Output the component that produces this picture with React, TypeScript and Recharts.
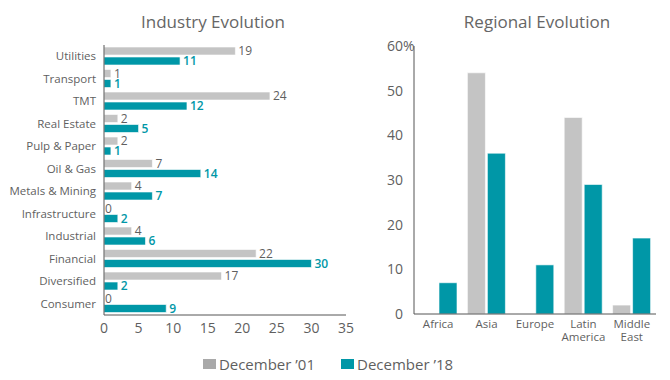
import React from 'react';
import { BarChart, Bar, XAxis, YAxis, LabelList } from 'recharts';

const industries = ['Utilities', 'Transport', 'TMT', 'Real Estate', 'Pulp & Paper', 'Oil & Gas', 'Metals & Mining', 'Infrastructure', 'Industrial', 'Financial', 'Diversified', 'Consumer'];
const industry01 = [19, 1, 24, 2, 2, 7, 4, 0, 4, 22, 17, 0];
const industry18 = [11, 1, 12, 5, 1, 14, 7, 2, 6, 30, 2, 9];
const industryTicks = [0, 5, 10, 15, 20, 25, 30, 35];

const regions = ['Africa', 'Asia', 'Europe', 'Latin America', 'Middle East'];
const region01 = [0, 54, 0, 44, 2];
const region18 = [7, 36, 11, 29, 17];
const regionTicks = [0, 10, 20, 30, 40, 50, 60];

const seriesNames = ['December \u201901', 'December \u201918'];
const titles = ['Industry Evolution', 'Regional Evolution'];

const GRAY = '#c4c4c4';
const GRAY_LEGEND = '#a9a9a9';
const TEAL = '#0097a7';
const TEXT = '#5f5f5f';
const AXIS = '#555555';
const FONT = '"Open Sans", sans-serif';

const industryData = industries.map((name, i) => ({ name, a: industry01[i], b: industry18[i] }));
const regionData = regions.map((name, i) => ({ name, a: region01[i], b: region18[i] }));

const IndustryTick = (props: any) => {
  const { x, y, payload } = props;
  return (
    <text x={x} y={y} dy={4} textAnchor="end" fill={TEXT} fontSize={11.5} fontFamily={FONT}>{payload.value}</text>
  );
};

const RegionTick = (props: any) => {
  const { x, y, payload } = props;
  const words = String(payload.value).split(' ');
  return (
    <g transform={`translate(${x},${y})`}>
      <text textAnchor="middle" fill={TEXT} fontSize={11.5} fontFamily={FONT}>
        {words.map((w, i) => (
          <tspan key={i} x={0} dy={i === 0 ? 6 : 13}>{w}</tspan>
        ))}
      </text>
    </g>
  );
};

const RegionYTick = (props: any) => {
  const { x, y, payload } = props;
  const v = payload.value;
  const isTop = v === regionTicks[regionTicks.length - 1];
  return (
    <g>
      <text x={x - 3} y={y} dy={5} textAnchor="end" fill={TEXT} fontSize={14} fontFamily={FONT}>{v}</text>
      {isTop ? (
        <text x={x - 3} y={y} dy={5} textAnchor="start" fill={TEXT} fontSize={14} fontFamily={FONT}>%</text>
      ) : null}
    </g>
  );
};

const makeValueLabel = (color: string, weight: number) => (props: any) => {
  const { x, y, width, height, value } = props;
  const xx = Number(x) + Math.max(0, Number(width || 0)) + (Number(value) === 0 ? 1 : 3);
  const yy = Number(y) + Number(height || 0) / 2;
  return (
    <text x={xx} y={yy} dy={4} textAnchor="start" fill={color} fontSize={12} fontWeight={weight} fontFamily={FONT}>{value}</text>
  );
};

export default function App() {
  return (
    <div style={{ position: 'absolute', left: 0, top: 0, width: 670, height: 380, background: '#fff', fontFamily: FONT }}>
      <div style={{ position: 'absolute', left: 113, top: 8, width: 200, textAlign: 'center', fontSize: 17, color: '#666', lineHeight: '28px' }}>{titles[0]}</div>
      <div style={{ position: 'absolute', left: 437, top: 8, width: 200, textAlign: 'center', fontSize: 17, color: '#666', lineHeight: '28px' }}>{titles[1]}</div>

      <div style={{ position: 'absolute', left: 0, top: 0 }}>
        <BarChart width={360} height={340} data={industryData} layout="vertical" barSize={8} barGap={2}
          margin={{ top: 45, right: 14, bottom: 0, left: 0 }}>
          <XAxis type="number" domain={[0, 35]} ticks={industryTicks} tickLine={false} axisLine={{ stroke: AXIS }}
            tick={{ fill: TEXT, fontSize: 14, fontFamily: FONT }} height={25} interval={0} />
          <YAxis type="category" dataKey="name" width={104} tickLine={false} axisLine={{ stroke: AXIS }}
            tick={<IndustryTick />} interval={0} />
          <Bar dataKey="a" fill={GRAY} stroke="#ffffff" strokeOpacity={0.6} minPointSize={0.01} isAnimationActive={false}>
            <LabelList dataKey="a" content={makeValueLabel(TEXT, 400)} />
          </Bar>
          <Bar dataKey="b" fill={TEAL} stroke="#ffffff" strokeOpacity={0.6} minPointSize={0.01} isAnimationActive={false}>
            <LabelList dataKey="b" content={makeValueLabel(TEAL, 600)} />
          </Bar>
        </BarChart>
      </div>

      <div style={{ position: 'absolute', left: 360, top: 0 }}>
        <BarChart width={310} height={350} data={regionData} barSize={18} barGap={2}
          margin={{ top: 46, right: 14, bottom: 0, left: 0 }}>
          <XAxis dataKey="name" tickLine={false} axisLine={{ stroke: AXIS }} tick={<RegionTick />} height={36} interval={0} />
          <YAxis type="number" domain={[0, 60]} ticks={regionTicks} width={54} tickLine={false} axisLine={{ stroke: AXIS }}
            tick={<RegionYTick />} interval={0} />
          <Bar dataKey="a" fill={GRAY} stroke="#ffffff" strokeOpacity={0.6} isAnimationActive={false} />
          <Bar dataKey="b" fill={TEAL} stroke="#ffffff" strokeOpacity={0.6} isAnimationActive={false} />
        </BarChart>
      </div>

      <div style={{ position: 'absolute', left: -7, top: 354, width: 670, display: 'flex', justifyContent: 'center', alignItems: 'center', fontSize: 15, color: TEXT, lineHeight: '20px' }}>
        {seriesNames.map((n, i) => (
          <div key={n} style={{ display: 'flex', alignItems: 'center', marginLeft: i === 0 ? 0 : 26 }}>
            <span style={{ display: 'inline-block', width: 13, height: 10, background: i === 0 ? GRAY_LEGEND : TEAL, marginRight: 3 }} />
            <span>{n}</span>
          </div>
        ))}
      </div>
    </div>
  );
}
